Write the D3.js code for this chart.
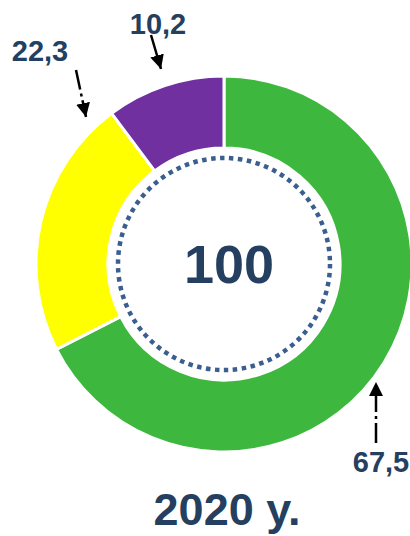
<!DOCTYPE html>
<html>
<head>
<meta charset="utf-8">
<script src="https://cdn.jsdelivr.net/npm/d3@7"></script>
<style>
  body { margin: 0; background: #fff; }
  svg { display: block; }
</style>
</head>
<body>
<div id="chart"></div>
<script>
// shares of the total, clockwise from 12 o'clock
const categories = ["green", "yellow", "purple"];
const values = [67.5, 22.3, 10.2];
const labels = ["67,5", "22,3", "10,2"];
const colors = ["#3DB73D", "#FFFF00", "#7030A0"];
const total = "100";
const year = "2020 y.";

const width = 410, height = 536;
const cx = 224, cy = 264;
const outerR = 188, innerR = 116;
const textColor = "#243F60";

const svg = d3.select("#chart").append("svg")
  .attr("width", width)
  .attr("height", height);

svg.append("defs").append("marker")
  .attr("id", "head")
  .attr("viewBox", "0 0 10 10")
  .attr("refX", 10).attr("refY", 5)
  .attr("markerWidth", 14).attr("markerHeight", 16)
  .attr("markerUnits", "userSpaceOnUse")
  .attr("orient", "auto")
  .append("path")
  .attr("d", "M0,0 L10,5 L0,10 Z")
  .attr("fill", "#000");

const pie = d3.pie().sort(null).value(d => d);
const arc = d3.arc().innerRadius(innerR).outerRadius(outerR);

const g = svg.append("g").attr("transform", `translate(${cx},${cy})`);

g.selectAll("path.slice")
  .data(pie(values))
  .enter().append("path")
  .attr("class", "slice")
  .attr("d", arc)
  .attr("fill", (d, i) => colors[i])
  .attr("stroke", "#fff")
  .attr("stroke-width", 3);

// dotted inner ring
g.append("circle")
  .attr("r", 106)
  .attr("fill", "none")
  .attr("stroke", "#3A5F8F")
  .attr("stroke-width", 4.5)
  .attr("stroke-dasharray", "4.5,4.5");

g.append("text")
  .attr("x", 5).attr("y", 19)
  .attr("text-anchor", "middle")
  .attr("font-family", "Liberation Sans, Arial, sans-serif")
  .attr("font-weight", "bold")
  .attr("font-size", 54)
  .attr("fill", textColor)
  .text(total);

// value labels with callout arrows
const callouts = [
  { label: labels[0], tx: 381, ty: 472, line: [[376, 443], [376, 382]], dash: "20,4,3,4" },
  { label: labels[1], tx: 40, ty: 61, line: [[76, 70], [86, 117]], dash: "20,4,3,4" },
  { label: labels[2], tx: 158, ty: 34, line: [[151, 35], [161, 69]], dash: null }
];

const lineGen = d3.line();
svg.selectAll("path.arrow")
  .data(callouts)
  .enter().append("path")
  .attr("class", "arrow")
  .attr("d", d => lineGen(d.line))
  .attr("stroke", "#000")
  .attr("stroke-width", 2.5)
  .attr("fill", "none")
  .attr("stroke-dasharray", d => d.dash)
  .attr("marker-end", "url(#head)");

svg.selectAll("text.val")
  .data(callouts)
  .enter().append("text")
  .attr("class", "val")
  .attr("x", d => d.tx).attr("y", d => d.ty)
  .attr("text-anchor", "middle")
  .attr("font-family", "Liberation Sans, Arial, sans-serif")
  .attr("font-weight", "bold")
  .attr("font-size", 29)
  .attr("fill", textColor)
  .text(d => d.label);

svg.append("text")
  .attr("x", 227).attr("y", 525)
  .attr("text-anchor", "middle")
  .attr("font-family", "Liberation Sans, Arial, sans-serif")
  .attr("font-weight", "bold")
  .attr("font-size", 45)
  .attr("fill", textColor)
  .text(year);
</script>
</body>
</html>
